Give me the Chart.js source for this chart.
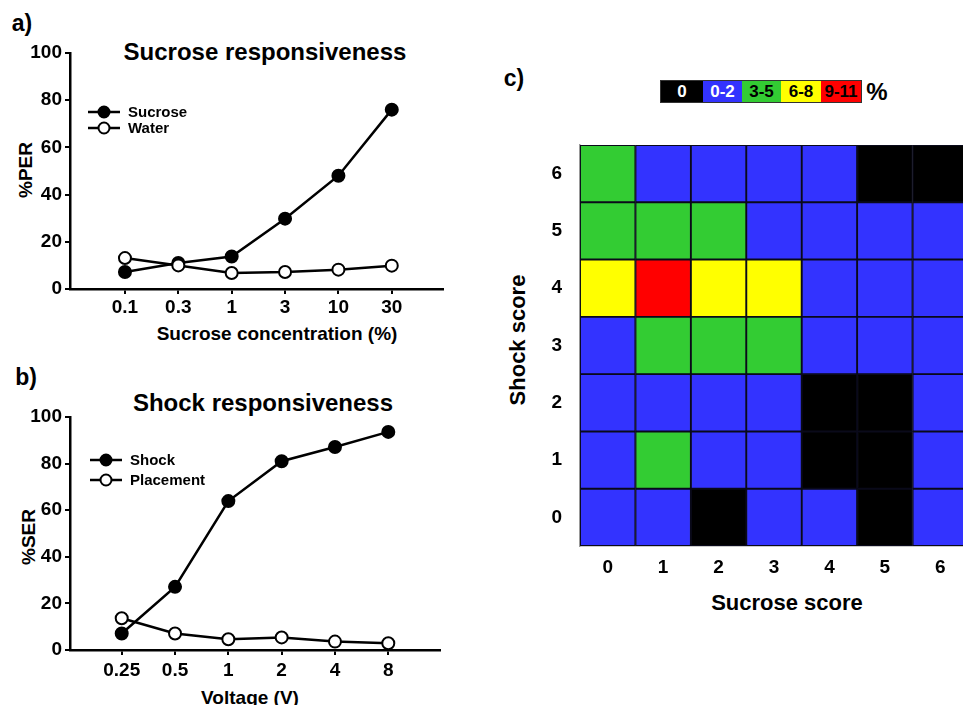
<!DOCTYPE html>
<html>
<head>
<meta charset="utf-8">
<script src="https://cdn.jsdelivr.net/npm/chart.js@4.4.0/dist/chart.umd.min.js"></script>
<style>
  html, body { margin: 0; padding: 0; background: #fff; }
  body { width: 963px; height: 705px; overflow: hidden; position: relative;
         font-family: "Liberation Sans", Arial, sans-serif; font-weight: bold; color: #000; }
  .box { position: absolute; }
  .txt { position: absolute; white-space: nowrap; line-height: 1; transform: translate(-50%, -50%); }
  .rot { transform: translate(-50%, -50%) rotate(-90deg); }
  .key { display: flex; border: 1px solid #333; height: 21px; }
  .key div { text-align: center; line-height: 21px; font-size: 17px; }
</style>
</head>
<body>

<div class="txt" style="left:22px;top:23px;font-size:23px">a)</div>
<div class="txt" style="left:265px;top:52px;font-size:24px">Sucrose responsiveness</div>
<div class="txt rot" style="left:25px;top:170px;font-size:19px">%PER</div>
<div class="txt" style="left:277px;top:333px;font-size:19px">Sucrose concentration (%)</div>
<div class="box" style="left:0;top:0;width:480px;height:350px"><canvas id="chartA"></canvas></div>

<div class="txt" style="left:26px;top:377px;font-size:23px">b)</div>
<div class="txt" style="left:263px;top:403px;font-size:24px">Shock responsiveness</div>
<div class="txt rot" style="left:28px;top:537px;font-size:19px">%SER</div>
<div class="txt" style="left:250px;top:697px;font-size:19px">Voltage (V)</div>
<div class="box" style="left:0;top:350px;width:480px;height:355px"><canvas id="chartB"></canvas></div>

<div class="txt" style="left:514px;top:78px;font-size:23px">c)</div>
<div class="box key" id="key" style="left:660px;top:80px"></div>
<div class="txt" style="left:877px;top:92px;font-size:24px">%</div>
<div class="txt rot" style="left:518px;top:340px;font-size:22px">Shock score</div>
<div class="txt" style="left:787px;top:603px;font-size:22px">Sucrose score</div>
<div class="box" style="left:500px;top:100px;width:480px;height:540px"><canvas id="chartC"></canvas></div>

<script>
// panel a
const concLabels = ['0.1', '0.3', '1', '3', '10', '30'];
const sucrosePER = [7.2, 11.0, 13.8, 29.8, 48.0, 76.0];
const waterPER = [13.1, 10.0, 6.8, 7.2, 8.2, 9.9];

// panel b
const voltLabels = ['0.25', '0.5', '1', '2', '4', '8'];
const shockSER = [7.1, 27.1, 63.9, 81.0, 87.1, 93.6];
const placementSER = [13.6, 7.1, 4.6, 5.4, 3.6, 2.9];

const percentTicks = [0, 20, 40, 60, 80, 100];

// panel c: colour class per cell, rows = shock score 0..6, columns = sucrose score 0..6
const sucroseScores = ['0', '1', '2', '3', '4', '5', '6'];
const shockScores = ['0', '1', '2', '3', '4', '5', '6'];
const heatClasses = [
  [1, 1, 0, 1, 1, 0, 1],
  [1, 2, 1, 1, 0, 0, 1],
  [1, 1, 1, 1, 0, 0, 1],
  [1, 2, 2, 2, 1, 1, 1],
  [3, 4, 3, 3, 1, 1, 1],
  [2, 2, 2, 1, 1, 1, 1],
  [2, 1, 1, 1, 1, 0, 0]
];
const classLabels = ['0', '0-2', '3-5', '6-8', '9-11'];
const classColors = ['#000000', '#3333ff', '#33cc33', '#ffff00', '#ff0000'];
const classText = ['#fff', '#fff', '#000', '#000', '#000'];
const keyWidths = [42, 39, 39, 40, 40];

Chart.defaults.font.family = '"Liberation Sans", Arial, sans-serif';
Chart.defaults.font.weight = 'bold';
Chart.defaults.color = '#000';

// colour key above the heatmap
const keyEl = document.getElementById('key');
classLabels.forEach((lab, i) => {
  const d = document.createElement('div');
  d.textContent = lab;
  d.style.width = keyWidths[i] + 'px';
  d.style.background = classColors[i];
  d.style.color = classText[i];
  keyEl.appendChild(d);
});

// legend drawn inside the plot area
const insideLegend = {
  id: 'insideLegend',
  afterDatasetsDraw(chart, args, opts) {
    const ctx = chart.ctx;
    ctx.save();
    chart.data.datasets.forEach((ds, i) => {
      const y = opts.y + i * opts.gap;
      ctx.strokeStyle = '#000';
      ctx.lineWidth = 2.5;
      ctx.beginPath();
      ctx.moveTo(opts.x, y);
      ctx.lineTo(opts.x + 32, y);
      ctx.stroke();
      ctx.beginPath();
      ctx.arc(opts.x + 16, y, 5.5, 0, Math.PI * 2);
      ctx.fillStyle = ds.pointBackgroundColor;
      ctx.fill();
      ctx.lineWidth = 2;
      ctx.stroke();
      ctx.fillStyle = '#000';
      ctx.font = 'bold 15px "Liberation Sans", Arial, sans-serif';
      ctx.textBaseline = 'middle';
      ctx.fillText(ds.label, opts.x + 40, y + 1);
    });
    ctx.restore();
  }
};

function series(label, values, fill, order) {
  return {
    label: label,
    data: values.map((v, i) => ({ x: i, y: v })),
    borderColor: '#000',
    borderWidth: 2.5,
    pointRadius: 6,
    pointBorderWidth: 2,
    pointBorderColor: '#000',
    pointBackgroundColor: fill,
    tension: 0,
    order: order
  };
}

function lineChart(id, labels, filled, open, names, opt) {
  return new Chart(document.getElementById(id), {
    type: 'line',
    data: {
      datasets: [
        series(names[0], filled, '#000', 1),
        series(names[1], open, '#fff', 0)
      ]
    },
    plugins: [insideLegend],
    options: {
      responsive: true,
      maintainAspectRatio: false,
      animation: false,
      layout: { padding: { left: 0, top: opt.top, right: opt.right, bottom: 0 } },
      plugins: {
        legend: { display: false },
        tooltip: { enabled: false },
        insideLegend: opt.legend
      },
      scales: {
        x: {
          type: 'linear',
          min: opt.xmin,
          max: opt.xmax,
          afterBuildTicks: ax => { ax.ticks = labels.map((_, i) => ({ value: i })); },
          afterFit: ax => { ax.height = opt.xh; },
          ticks: { callback: v => labels[v], font: { size: 19 }, padding: opt.tpad,
                   maxRotation: 0, autoSkip: false },
          grid: { drawOnChartArea: false, drawTicks: true, tickLength: 5, color: '#000', lineWidth: 2 },
          border: { color: '#000', width: 2.5 }
        },
        y: {
          min: 0,
          max: 100,
          afterBuildTicks: ax => { ax.ticks = percentTicks.map(v => ({ value: v })); },
          afterFit: ax => { ax.width = 70; },
          ticks: { font: { size: 19 }, padding: 3 },
          grid: { drawOnChartArea: false, drawTicks: true, tickLength: 5, color: '#000', lineWidth: 2 },
          border: { color: '#000', width: 2.5 }
        }
      }
    }
  });
}

lineChart('chartA', concLabels, sucrosePER, waterPER, ['Sucrose', 'Water'],
  { top: 53, right: 37, xmin: -1.03, xmax: 5.96, xh: 61, tpad: 2,
    legend: { x: 88, y: 112, gap: 16 } });

lineChart('chartB', voltLabels, shockSER, placementSER, ['Shock', 'Placement'],
  { top: 67, right: 40, xmin: -0.97, xmax: 5.97, xh: 55, tpad: 4,
    legend: { x: 90, y: 110, gap: 20 } });

// heatmap as stacked bars, one dataset per shock score row
const heatSets = shockScores.map((s, r) => ({
  label: 'Shock ' + s,
  data: sucroseScores.map(() => 1),
  backgroundColor: heatClasses[r].map(k => classColors[k]),
  borderColor: '#0a0a1a',
  borderWidth: 1.3,
  borderSkipped: false,
  barPercentage: 1,
  categoryPercentage: 1
}));

new Chart(document.getElementById('chartC'), {
  type: 'bar',
  data: { labels: sucroseScores, datasets: heatSets },
  options: {
    responsive: true,
    maintainAspectRatio: false,
    animation: false,
    layout: { padding: { left: 0, top: 45, right: 12, bottom: 0 } },
    plugins: { legend: { display: false }, tooltip: { enabled: false } },
    scales: {
      x: {
        stacked: true,
        afterFit: ax => { ax.height = 94; },
        ticks: { font: { size: 19 }, padding: 2 },
        grid: { display: false },
        border: { color: '#999', width: 1.5 }
      },
      y: {
        stacked: true,
        min: 0,
        max: 7,
        afterBuildTicks: ax => { ax.ticks = shockScores.map((_, i) => ({ value: i + 0.5 })); },
        afterFit: ax => { ax.width = 80; },
        ticks: { callback: v => shockScores[Math.round(v - 0.5)], font: { size: 19 }, padding: 10 },
        grid: { display: false },
        border: { color: '#999', width: 1.5 }
      }
    }
  }
});
</script>
</body>
</html>
